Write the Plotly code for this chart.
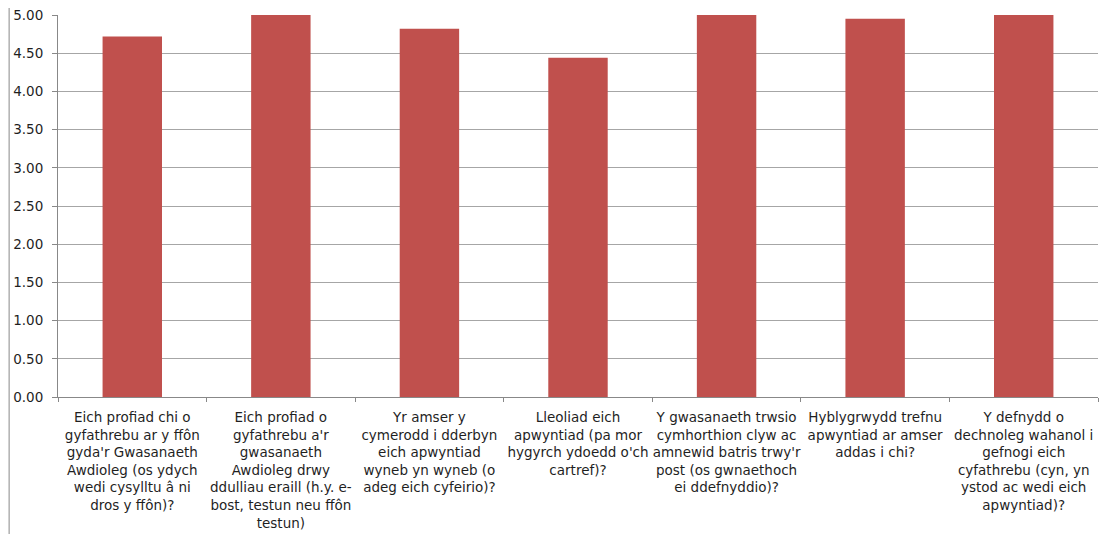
import plotly.graph_objects as go

categories = [
    "Eich profiad chi o<br>gyfathrebu ar y ffôn<br>gyda'r Gwasanaeth<br>Awdioleg (os ydych<br>wedi cysylltu â ni<br>dros y ffôn)?",
    "Eich profiad o<br>gyfathrebu a'r<br>gwasanaeth<br>Awdioleg drwy<br>ddulliau eraill (h.y. e-<br>bost, testun neu ffôn<br>testun)",
    "Yr amser y<br>cymerodd i dderbyn<br>eich apwyntiad<br>wyneb yn wyneb (o<br>adeg eich cyfeirio)?",
    "Lleoliad eich<br>apwyntiad (pa mor<br>hygyrch ydoedd o'ch<br>cartref)?",
    "Y gwasanaeth trwsio<br>cymhorthion clyw ac<br>amnewid batris trwy'r<br>post (os gwnaethoch<br>ei ddefnyddio)?",
    "Hyblygrwydd trefnu<br>apwyntiad ar amser<br>addas i chi?",
    "Y defnydd o<br>dechnoleg wahanol i<br>gefnogi eich<br>cyfathrebu (cyn, yn<br>ystod ac wedi eich<br>apwyntiad)?",
]
values = [4.72, 5.00, 4.82, 4.44, 5.00, 4.95, 5.00]
y_ticks = [0, 0.5, 1, 1.5, 2, 2.5, 3, 3.5, 4, 4.5, 5]
y_tick_labels = ["%.2f" % v for v in y_ticks]

fig = go.Figure(go.Bar(
    x=categories, y=values,
    marker=dict(color="#C0504D", line=dict(width=0)),
    width=0.4,
))

# page body has an 8px default margin; compensate so the plot lands where the reference has it
fig.update_layout(
    width=1102, height=526,
    margin=dict(l=50, r=12, t=7, b=137, autoexpand=False),
    paper_bgcolor="white", plot_bgcolor="white",
    font=dict(family="DejaVu Sans, Liberation Sans, Arial, sans-serif", size=13.5, color="#1f1f1f"),
    showlegend=False,
)
fig.update_xaxes(
    showline=True, linecolor="#888888", linewidth=1,
    ticks="outside", tickson="boundaries", ticklen=4, tickcolor="#888888",
    showgrid=False, tickangle=0, automargin=False, ticklabeloverflow="allow",
    ticklabelstandoff=8,
)
fig.update_yaxes(
    range=[0, 5], tickvals=y_ticks, ticktext=y_tick_labels,
    showline=True, linecolor="#888888", linewidth=1,
    ticks="outside", ticklen=5, tickcolor="#888888",
    showgrid=True, gridcolor="#a6a6a6", gridwidth=1,
    zeroline=False, automargin=False, ticklabeloverflow="allow",
    ticklabelstandoff=6,
)
fig.add_shape(type="line", xref="paper", yref="paper",
              x0=-0.047, x1=-0.047, y0=-0.4, y1=1.05,
              line=dict(color="#888888", width=1))

fig.write_html("out.html")
